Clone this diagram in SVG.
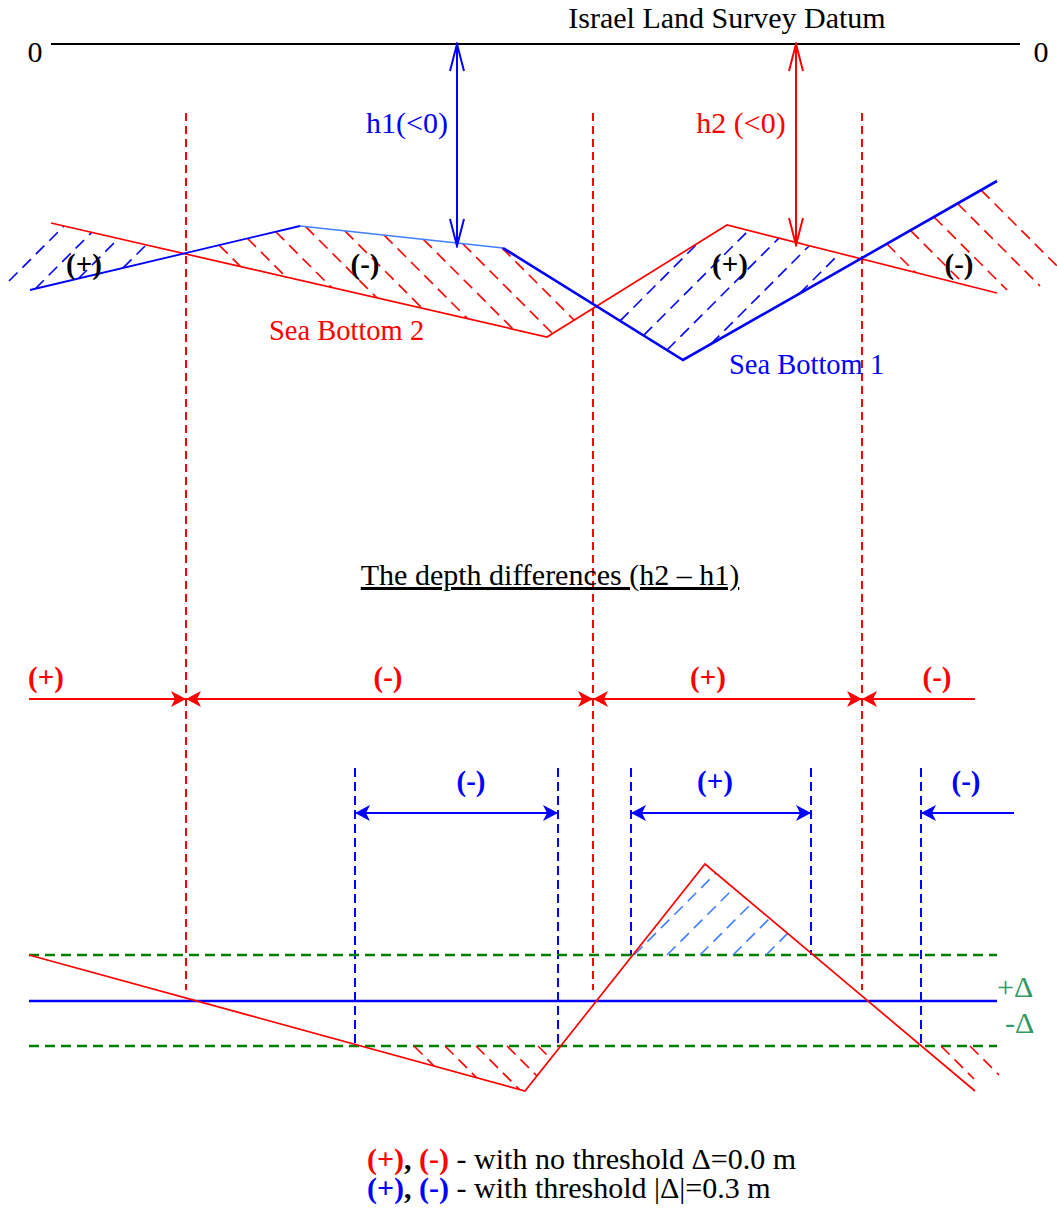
<svg xmlns="http://www.w3.org/2000/svg" width="1057" height="1215" viewBox="0 0 1057 1215">
<style>
text{font-family:"Liberation Serif","Times New Roman",serif;font-size:30px}
.b{font-weight:bold;font-size:29px}
.sb{font-size:28.5px}
.red{fill:#ff0000}
.blue{fill:#0000ff}
.blk{fill:#000000}
.grn{fill:#339966}
.rd{stroke:#ff0000;stroke-width:2;stroke-dasharray:8 5;fill:none}
.bd{stroke:#0000ff;stroke-width:2;stroke-dasharray:9 5;fill:none}
.gd{stroke:#008000;stroke-width:2.5;stroke-dasharray:10 6;fill:none}
.rh{stroke:#ff0000;stroke-width:1.6;stroke-dasharray:12 7;fill:none}
.bh{stroke:#0000ff;stroke-width:1.6;stroke-dasharray:12 7;fill:none}
.lbh{stroke:#3f7fff;stroke-width:1.6;stroke-dasharray:12 7;fill:none}
.ra{stroke:#ff0000;stroke-width:2;fill:none}
.ba{stroke:#0000ff;stroke-width:2;fill:none}
</style>
<defs>
<marker id="fR" markerUnits="userSpaceOnUse" viewBox="-16 -9 17 18" markerWidth="17" markerHeight="18" refX="0" refY="0" orient="auto-start-reverse"><path d="M0,0 L-15,-8 L-11,0 L-15,8 Z" fill="#ff0000"/></marker>
<marker id="fB" markerUnits="userSpaceOnUse" viewBox="-16 -9 17 18" markerWidth="17" markerHeight="18" refX="0" refY="0" orient="auto-start-reverse"><path d="M0,0 L-15,-8 L-11,0 L-15,8 Z" fill="#0000ff"/></marker>
<marker id="oR" markerUnits="userSpaceOnUse" viewBox="-29 -9 31 18" markerWidth="31" markerHeight="18" refX="0" refY="0" orient="auto-start-reverse"><path d="M-27,-7 L0,0 L-27,7" fill="none" stroke="#ff0000" stroke-width="2"/></marker>
<marker id="oB" markerUnits="userSpaceOnUse" viewBox="-29 -9 31 18" markerWidth="31" markerHeight="18" refX="0" refY="0" orient="auto-start-reverse"><path d="M-27,-7 L0,0 L-27,7" fill="none" stroke="#0000ff" stroke-width="2"/></marker>
</defs>

<g id="datum">
<line x1="51" y1="44" x2="1020" y2="44" stroke="#000" stroke-width="2.2"/>
<text x="727" y="28" text-anchor="middle" class="blk">Israel Land Survey Datum</text>
<text x="35" y="62" text-anchor="middle" class="blk">0</text>
<text x="1041" y="62" text-anchor="middle" class="blk">0</text>
</g>

<g id="guides-red">
<line class="rd" x1="186" y1="113" x2="186" y2="990"/>
<line class="rd" x1="593" y1="113" x2="593" y2="990"/>
<line class="rd" x1="862" y1="113" x2="862" y2="990"/>
</g>
<g id="guides-blue">
<line class="bd" x1="355" y1="768" x2="355" y2="1046"/>
<line class="bd" x1="558" y1="768" x2="558" y2="1046"/>
<line class="bd" x1="631" y1="768" x2="631" y2="955"/>
<line class="bd" x1="811" y1="768" x2="811" y2="955"/>
<line class="bd" x1="921" y1="768" x2="921" y2="1046"/>
</g>

<g id="hatch-top">
<g class="bh">
<line x1="9" y1="281" x2="64" y2="226"/>
<line x1="35.3" y1="288.7" x2="91.7" y2="232.4"/>
<line x1="78.5" y1="278.5" x2="118.5" y2="238.5"/>
<line x1="123.1" y1="267.9" x2="146.1" y2="244.9"/>
<line x1="620.1" y1="320.9" x2="697.7" y2="243.3"/>
<line x1="643.6" y1="335.4" x2="748.5" y2="230.5"/>
<line x1="667" y1="350" x2="778.9" y2="238.1"/>
<line x1="710.9" y1="344.1" x2="809.3" y2="245.7"/>
<line x1="799.3" y1="293.7" x2="839.6" y2="253.4"/>
</g>
<g class="rh">
<line x1="219.2" y1="245.2" x2="240.6" y2="266.6"/>
<line x1="247.5" y1="238.5" x2="286" y2="277"/>
<line x1="275.7" y1="231.7" x2="331.5" y2="287.5"/>
<line x1="305.6" y1="226.6" x2="376.9" y2="297.9"/>
<line x1="344.9" y1="230.9" x2="422.4" y2="308.4"/>
<line x1="384.1" y1="235.1" x2="467.8" y2="318.8"/>
<line x1="423.4" y1="239.4" x2="513.2" y2="329.2"/>
<line x1="462.7" y1="243.7" x2="552.6" y2="333.6"/>
<line x1="501.9" y1="247.9" x2="574.2" y2="320.2"/>
<line x1="886.8" y1="243.8" x2="915.5" y2="272.5"/>
<line x1="910.4" y1="230.4" x2="965" y2="285"/>
<line x1="934" y1="217" x2="1007" y2="290"/>
<line x1="957.5" y1="203.5" x2="1040" y2="286"/>
<line x1="981.1" y1="190.1" x2="1057" y2="266"/>
</g>
</g>

<g id="sea-bottom-2">
<polyline points="51,223 547,337 727,225 997,293" stroke="#ff0000" stroke-width="1.7" fill="none"/>
<text x="269" y="340" class="red sb">Sea Bottom 2</text>
</g>
<g id="sea-bottom-1">
<line x1="30" y1="290" x2="300" y2="226" stroke="#0000ff" stroke-width="1.8"/>
<line x1="300" y1="226" x2="503" y2="248" stroke="#3f7fff" stroke-width="1.7"/>
<polyline points="503,248 683,360 997,181" stroke="#0000ff" stroke-width="2.6" fill="none"/>
<text x="729" y="374" class="blue sb">Sea Bottom 1</text>
</g>

<g id="top-labels">
<text x="84" y="274" text-anchor="middle" class="b blk">(+)</text>
<text x="365" y="274" text-anchor="middle" class="b blk">(-)</text>
<text x="730" y="274" text-anchor="middle" class="b blk">(+)</text>
<text x="959" y="274" text-anchor="middle" class="b blk">(-)</text>
<text x="407" y="133" text-anchor="middle" class="blue">h1(&lt;0)</text>
<text x="741" y="133" text-anchor="middle" class="red">h2 (&lt;0)</text>
</g>

<g id="title">
<text x="550" y="585" text-anchor="middle" class="blk" text-decoration="underline">The depth differences (h2 – h1)</text>
</g>

<g id="row-labels">
<text x="46" y="687" text-anchor="middle" class="b red">(+)</text>
<text x="388" y="687" text-anchor="middle" class="b red">(-)</text>
<text x="708" y="687" text-anchor="middle" class="b red">(+)</text>
<text x="937" y="687" text-anchor="middle" class="b red">(-)</text>
<text x="471" y="791" text-anchor="middle" class="b blue">(-)</text>
<text x="715" y="791" text-anchor="middle" class="b blue">(+)</text>
<text x="966" y="791" text-anchor="middle" class="b blue">(-)</text>
</g>

<g id="connectors">
<line class="ba" x1="457" y1="44" x2="457" y2="246" marker-start="url(#oB)" marker-end="url(#oB)"/>
<line class="ra" x1="796" y1="44" x2="796" y2="245" marker-start="url(#oR)" marker-end="url(#oR)"/>
<line class="ra" x1="29" y1="699" x2="186" y2="699" marker-end="url(#fR)"/>
<line class="ra" x1="186" y1="699" x2="593" y2="699" marker-start="url(#fR)" marker-end="url(#fR)"/>
<line class="ra" x1="593" y1="699" x2="862" y2="699" marker-start="url(#fR)" marker-end="url(#fR)"/>
<line class="ra" x1="975" y1="699" x2="862" y2="699" marker-end="url(#fR)"/>
<line class="ba" x1="355" y1="813" x2="558" y2="813" marker-start="url(#fB)" marker-end="url(#fB)"/>
<line class="ba" x1="631" y1="813" x2="811" y2="813" marker-start="url(#fB)" marker-end="url(#fB)"/>
<line class="ba" x1="1014" y1="813" x2="921" y2="813" marker-end="url(#fB)"/>
</g>

<g id="difference-plot">
<line class="gd" x1="29" y1="955" x2="997" y2="955"/>
<line class="gd" x1="29" y1="1046" x2="997" y2="1046"/>
<line x1="29" y1="1001" x2="997" y2="1001" stroke="#0000ff" stroke-width="2.5"/>
<g class="lbh">
<line x1="634" y1="955" x2="715.8" y2="873.2"/>
<line x1="667" y1="955" x2="733.8" y2="888.2"/>
<line x1="700" y1="955" x2="751.7" y2="903.3"/>
<line x1="733" y1="955" x2="769.7" y2="918.3"/>
<line x1="766" y1="955" x2="787.6" y2="933.4"/>
</g>
<g class="rh">
<line x1="414" y1="1046" x2="434" y2="1066"/>
<line x1="445" y1="1046" x2="476.7" y2="1077.7"/>
<line x1="476" y1="1046" x2="519.4" y2="1089.4"/>
<line x1="507" y1="1046" x2="537" y2="1076"/>
<line x1="538" y1="1046" x2="550.7" y2="1058.7"/>
<line x1="941" y1="1046" x2="974" y2="1079"/>
<line x1="970" y1="1046" x2="999" y2="1075"/>
</g>
<polyline points="29,955 525,1091 705,864 975,1091" stroke="#ff0000" stroke-width="1.7" fill="none"/>
<text x="997" y="997" class="grn">+Δ</text>
<text x="1005" y="1033" class="grn">-Δ</text>
</g>

<g id="legend">
<text x="367" y="1169" class="blk"><tspan font-weight="bold" fill="#ff0000">(+)</tspan><tspan font-weight="bold">, </tspan><tspan font-weight="bold" fill="#ff0000">(-)</tspan> - with no threshold Δ=0.0 m</text>
<text x="367" y="1198" class="blk"><tspan font-weight="bold" fill="#0000ff">(+)</tspan><tspan font-weight="bold">, </tspan><tspan font-weight="bold" fill="#0000ff">(-)</tspan> - with threshold |Δ|=0.3 m</text>
</g>
</svg>
